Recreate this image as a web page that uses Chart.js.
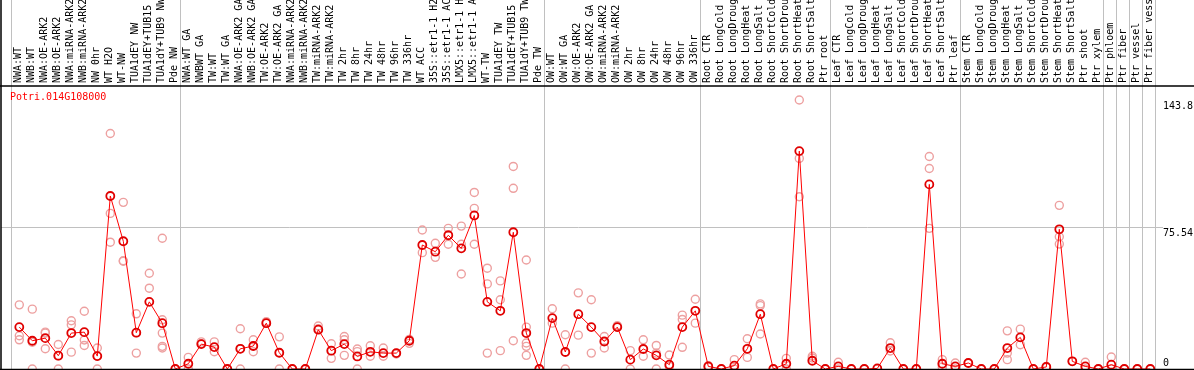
<!DOCTYPE html>
<html>
<head>
<meta charset="utf-8">
<title>Potri.014G108000</title>
<script src="https://cdn.jsdelivr.net/npm/chart.js@4.4.1/dist/chart.umd.min.js"></script>
<style>
    body { margin: 0; background: #ffffff; }
    #wrap { width: 1194px; height: 370px; }
</style>
</head>
<body>
<div id="wrap"><canvas id="expr-chart" width="1194" height="370"></canvas></div>
<script>
// Gene shown in the chart
const geneName = "Potri.014G108000";

// Sample names (one column each)
const samples = [
    "NWA:WT", "NWB:WT", "NWA:OE-ARK2", "NWB:OE-ARK2", "NWA:miRNA-ARK2", "NWB:miRNA-ARK2",
    "NW 0hr", "WT H2O", "WT-NW", "TUA1dEY NW", "TUA1dEY+TUB15 NW", "TUA1dY+TUB9 NW", "Pde NW",
    "NWA:WT GA", "NWBWT GA", "TW:WT", "TW:WT GA", "NWA:OE-ARK2 GA", "NWB:OE-ARK2 GA",
    "TW:OE-ARK2", "TW:OE-ARK2 GA", "NWA:miRNA-ARK2 GA", "NWB:miRNA-ARK2 GA", "TW:miRNA-ARK2",
    "TW:miRNA-ARK2 GA", "TW 2hr", "TW 8hr", "TW 24hr", "TW 48hr", "TW 96hr", "TW 336hr",
    "WT ACC", "35S::etr1-1 H2O", "35S::etr1-1 ACC", "LMX5::etr1-1 H2O", "LMX5::etr1-1 ACC",
    "WT-TW", "TUA1dEY TW", "TUA1dEY+TUB15 TW", "TUA1dY+TUB9 TW", "Pde TW",
    "OW:WT", "OW:WT GA", "OW:OE-ARK2", "OW:OE-ARK2 GA", "OW:miRNA-ARK2", "OW:miRNA-ARK2 GA",
    "OW 2hr", "OW 8hr", "OW 24hr", "OW 48hr", "OW 96hr", "OW 336hr",
    "Root CTR", "Root LongCold", "Root LongDrought", "Root LongHeat", "Root LongSalt",
    "Root ShortCold", "Root ShortDrought", "Root ShortHeat", "Root ShortSalt", "Ptr root",
    "Leaf CTR", "Leaf LongCold", "Leaf LongDrought", "Leaf LongHeat", "Leaf LongSalt",
    "Leaf ShortCold", "Leaf ShortDrought", "Leaf ShortHeat", "Leaf ShortSalt", "Ptr leaf",
    "Stem CTR", "Stem LongCold", "Stem LongDrought", "Stem LongHeat", "Stem LongSalt",
    "Stem ShortCold", "Stem ShortDrought", "Stem ShortHeat", "Stem ShortSalt", "Ptr shoot",
    "Ptr xylem", "Ptr phloem", "Ptr fiber", "Ptr vessel", "Ptr fiber vessel"
];

// Mean expression per sample
const means = [
    22.4, 15.1, 16.5, 7.1, 19.2, 19.7, 6.9, 92.5, 68.3, 19.4, 35.9, 24.5, 0,
    2.8, 13.3, 11.7, 0, 10.8, 12.3, 24.5, 8.7, 0, 0, 21.0, 9.8, 13.3, 6.7, 9.2, 8.5, 8.5, 15.1,
    66.3, 62.7, 71.5, 64.5, 82.1, 35.9, 31.1, 73.1, 19.2, 0,
    27.2, 9.1, 29.3, 22.4, 14.7, 22.4, 5.0, 10.7, 7.3, 2.3, 22.4, 31.1,
    1.4, 0, 1.8, 10.8, 29.3, 0, 2.8, 116.5, 4.4, 0,
    1.4, 0, 0, 0.3, 11.2, 0, 0, 98.7, 2.8, 1.4,
    3.2, 0, 0, 11.2, 16.9, 0, 1.1, 74.7, 4.1, 1.4, 0,
    2.3, 0, 0, 0
];

// Individual replicate values per sample
const replicates = [
    [34.3, 17.8, 15.6], [32.0, 14.3, 0], [19.7, 19.2, 10.8], [13.1, 7.1, 0], [25.8, 23.6, 9.0],
    [30.9, 15.5, 12.6], [11.2, 6.9, 0], [125.9, 83.2, 67.8], [89.1, 57.9, 57.6], [29.5, 19.4, 8.5],
    [51.2, 43.2], [69.9, 26.3, 19.2, 12.1, 11.2], [0],
    [6.2, 0], [14.5, 13.5], [14.5, 9.2], [0], [21.5, 10.8, 0], [15.6, 12.3, 9.2], [25.3, 24.5],
    [17.2, 8.7, 0], [0], [0], [23.0, 21.5], [13.5, 9.8, 5.7], [17.4, 15.6, 7.3], [10.7, 9.3, 0],
    [12.4, 6.8], [11.2, 6.8], [8.5, 8.0], [15.8, 13.7],
    [74.3, 62.2], [67.2, 59.7], [75.2, 66.7], [76.4, 66.7, 50.8], [94.4, 85.9, 66.7],
    [53.9, 45.5, 8.5], [47.1, 37.0, 9.8], [108.3, 96.6, 15.1], [58.3, 22.4, 13.9, 12.1, 7.3], [0],
    [32.2, 24.5], [18.3, 0], [40.7, 18.1], [37.0, 8.5], [17.4, 11.2], [23.2, 22.4],
    [9.8, 0], [15.6, 6.8], [12.6, 8.5, 0], [7.5, 1.4], [28.8, 26.5, 11.6], [37.3, 24.5],
    [1.8, 1.0], [0], [5.0, 0], [16.2, 6.2], [34.8, 33.9, 18.7], [0], [5.7, 0],
    [143.8, 112.6, 92.1], [6.8, 5.9], [0],
    [3.6, 0], [0], [0], [0], [14.0, 9.6], [0], [0], [113.6, 107.2, 75.2], [5.0, 1.0], [3.2, 0],
    [3.2], [0], [0], [20.4, 8.5, 5.0], [21.3, 13.0], [0], [1.4, 0.8], [87.5, 70.7, 66.8],
    [4.1], [3.6, 0], [0],
    [6.4, 0], [0], [0], [0]
];

// First sample of each group (a separator line is drawn before each)
const groupStarts = [0, 13, 41, 53, 63, 73, 84, 85, 86, 87, 88];

// Values labelled on the right axis
const yTicks = [0, 75.54, 143.8];

Chart.defaults.font.family = "'DejaVu Sans Mono', monospace";
Chart.defaults.font.size = 10;
Chart.defaults.color = "#000000";

// Build point lists for the library
var meanPoints = means.map(function (v, i) { return { x: i, y: v }; });
var repPoints = [];
replicates.forEach(function (list, i) {
    list.forEach(function (v) { repPoints.push({ x: i, y: v }); });
});

// Frame lines and gene name
const framePlugin = {
    id: 'frame',
    afterDraw: function (chart) {
        var ctx = chart.ctx;
        var area = chart.chartArea;
        ctx.save();
        ctx.strokeStyle = "#000000";
        ctx.lineWidth = 1.5;
        ctx.beginPath();
        ctx.moveTo(1, 0);
        ctx.lineTo(1, chart.height);
        ctx.moveTo(0, area.top);
        ctx.lineTo(chart.width, area.top);
        ctx.moveTo(0, area.bottom + 0.5);
        ctx.lineTo(chart.width, area.bottom + 0.5);
        ctx.stroke();
        ctx.fillStyle = "#ff0000";
        ctx.font = "10px 'DejaVu Sans Mono', monospace";
        ctx.textBaseline = "middle";
        ctx.fillText(geneName, area.left + 9, area.top + 11);
        ctx.restore();
    }
};

function noPadding(scale) {
    scale.paddingLeft = 0;
    scale.paddingRight = 0;
    scale.paddingTop = 0;
    scale.paddingBottom = 0;
}

const xMin = -1.408;
const xMax = 87.438;

var myChart = new Chart(document.getElementById('expr-chart').getContext('2d'), {
    type: 'line',
    data: {
        datasets: [{
            label: 'mean',
            data: meanPoints,
            borderColor: '#ff0000',
            borderWidth: 1,
            pointRadius: 4,
            pointBorderWidth: 1.8,
            pointBorderColor: '#e00000',
            pointBackgroundColor: 'rgba(0,0,0,0)',
            tension: 0,
            clip: false,
            order: 1
        }, {
            label: 'replicates',
            data: repPoints,
            showLine: false,
            pointRadius: 4,
            pointBorderWidth: 1.4,
            pointBorderColor: '#eda0a0',
            pointBackgroundColor: 'rgba(0,0,0,0)',
            clip: false,
            order: 2
        }]
    },
    options: {
        responsive: false,
        devicePixelRatio: 1,
        animation: false,
        layout: { autoPadding: false, padding: { left: 1, right: 0, top: 0, bottom: 1 } },
        plugins: {
            legend: { display: false },
            tooltip: { enabled: false }
        },
        scales: {
            x: {
                type: 'linear',
                position: 'top',
                weight: 1,
                min: xMin,
                max: xMax,
                grid: { display: false, drawTicks: false },
                border: { display: false },
                ticks: {
                    autoSkip: false,
                    minRotation: 90,
                    maxRotation: 90,
                    padding: 3,
                    labelOffset: 11.5,
                    callback: function (value) { return samples[value]; }
                },
                afterBuildTicks: function (scale) {
                    scale.ticks = samples.map(function (s, i) { return { value: i }; });
                },
                afterFit: function (scale) {
                    noPadding(scale);
                    scale.height = 86;
                }
            },
            x2: {
                type: 'linear',
                position: 'top',
                weight: 0,
                min: xMin,
                max: xMax,
                grid: { color: '#c0c0c0', drawTicks: true, tickLength: 86 },
                border: { display: false },
                ticks: { display: false },
                afterBuildTicks: function (scale) {
                    scale.ticks = groupStarts.map(function (s) { return { value: s - 0.62 }; });
                },
                afterFit: function (scale) {
                    noPadding(scale);
                    scale.height = 0;
                }
            },
            y: {
                type: 'linear',
                position: 'right',
                min: 0,
                max: 151.3,
                border: { display: false },
                grid: {
                    color: function (c) { return c.tick && c.tick.value === 75.54 ? '#c0c0c0' : 'rgba(0,0,0,0)'; },
                    drawTicks: true,
                    tickLength: 7
                },
                ticks: {
                    padding: 0,
                    callback: function (value) {
                        return value === 0 ? ['0', ''] : ['', String(value)];
                    }
                },
                afterBuildTicks: function (scale) {
                    scale.ticks = yTicks.map(function (v) { return { value: v }; });
                },
                afterFit: function (scale) {
                    noPadding(scale);
                    scale.width = 38;
                }
            }
        }
    },
    plugins: [framePlugin]
});
</script>
</body>
</html>
